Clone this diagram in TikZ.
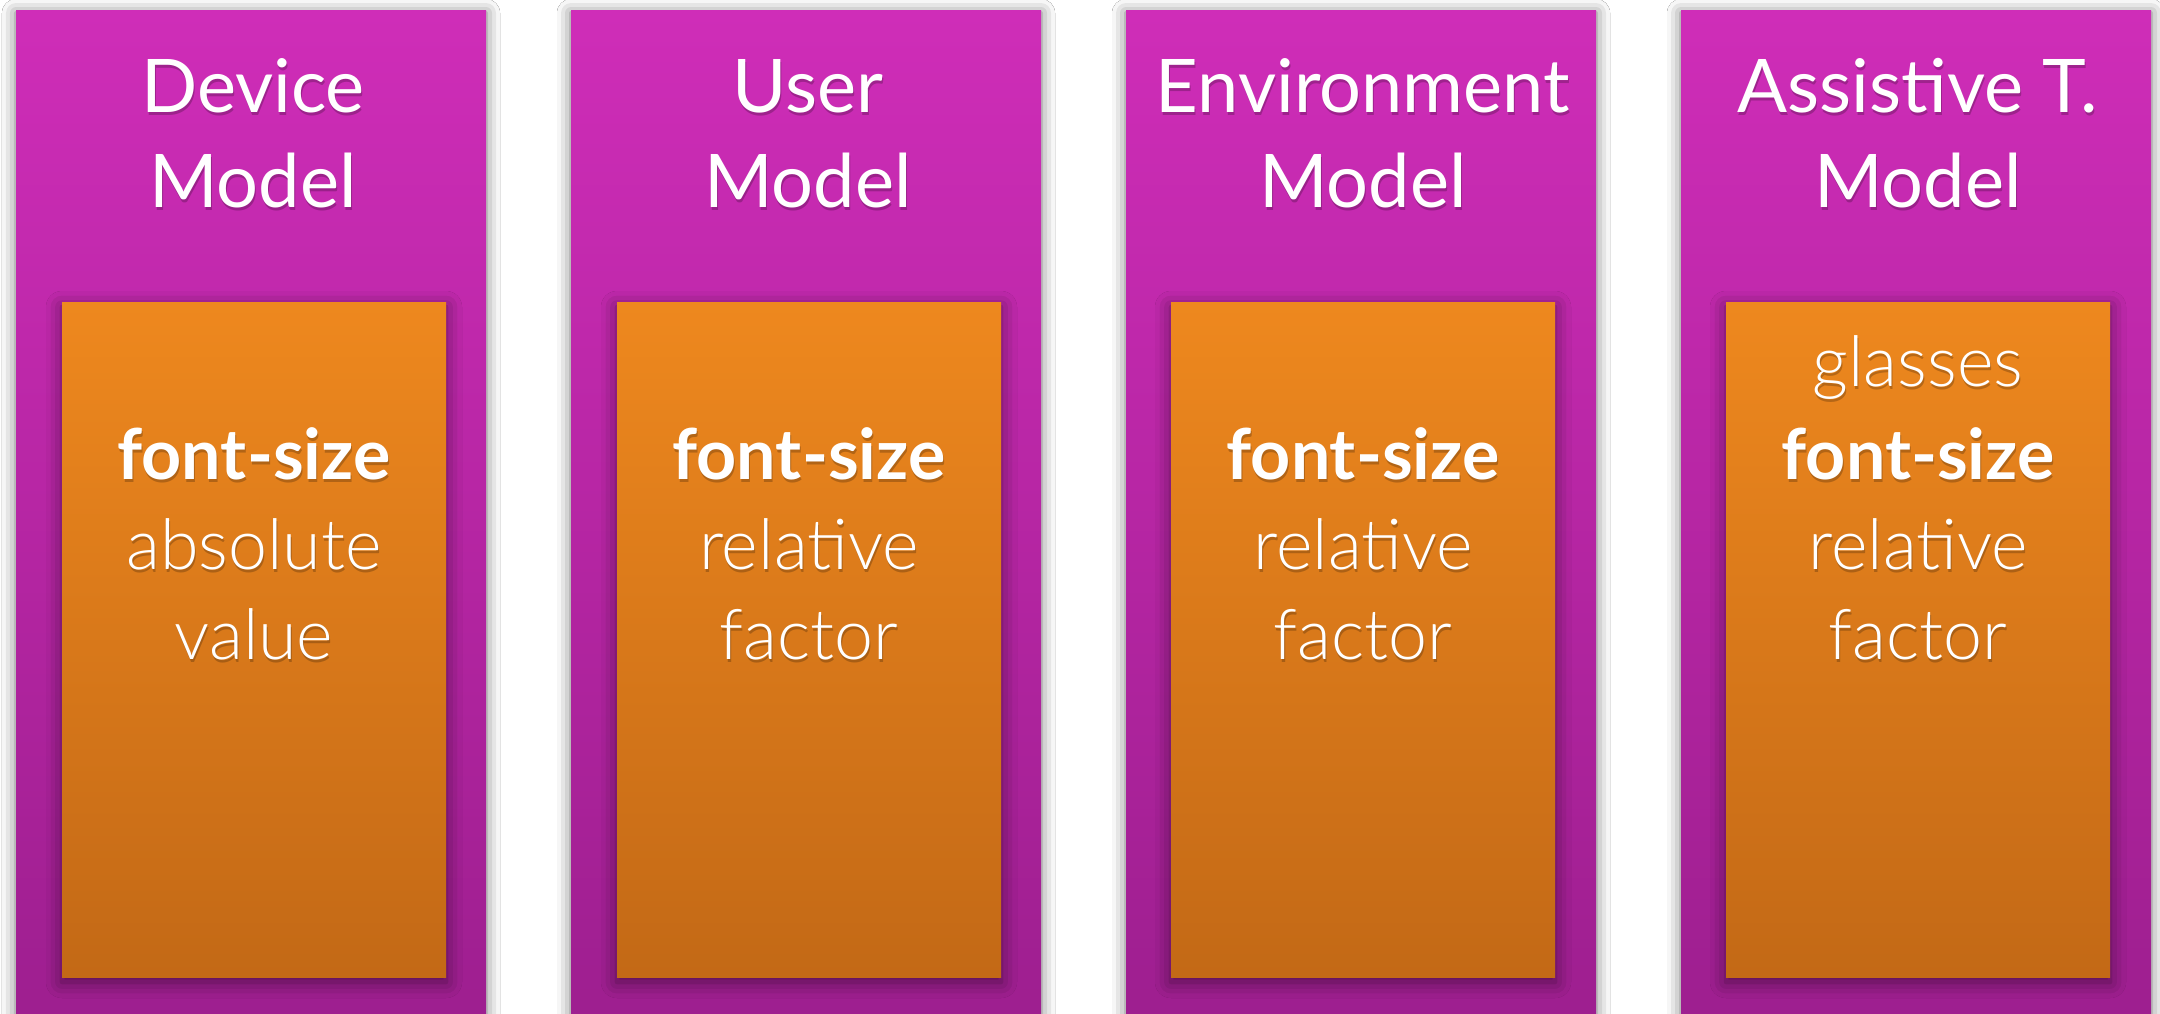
\documentclass[tikz,border=0pt]{standalone}
\usepackage{fontspec}
\setmainfont{Lato}
\newfontfamily\lightfont{Lato Light}
\usetikzlibrary{shadows.blur}
\definecolor{magtop}{RGB}{207,45,184}
\definecolor{magbot}{RGB}{156,30,142}
\definecolor{ortop}{RGB}{238,136,30}
\definecolor{orbot}{RGB}{195,105,22}
\tikzset{
  panel/.style={rectangle, minimum width=470pt, minimum height=1040pt, inner sep=0pt,
    draw=none, top color=magtop, bottom color=magbot,
    blur shadow={shadow xshift=0pt, shadow yshift=-2pt, shadow blur radius=14pt, shadow opacity=55}},
  card/.style={rectangle, minimum width=384pt, minimum height=675pt, inner sep=0pt,
    draw=none, top color=ortop, bottom color=orbot,
    blur shadow={shadow xshift=0pt, shadow yshift=-5pt, shadow blur radius=16pt, shadow opacity=50}},
  txt/.style={anchor=base, inner sep=0pt, text=white},
  txtsh/.style={anchor=base, inner sep=0pt, text=black, opacity=0.22},
  ttl/.style={font=\fontsize{74}{90}\selectfont},
  bld/.style={font=\fontsize{70}{84}\selectfont\bfseries},
  lgt/.style={font=\fontsize{70}{84}\selectfont\lightfont},
}
\newcommand\stxt[5]{%
  \node[txtsh,#4] (#1s) at (#2+1,#3+3) {#5};
  \node[txt,#4] (#1) at (#2,#3) {#5};}
\begin{document}
\begin{tikzpicture}[x=1pt,y=-1pt]
\useasboundingbox[fill=white] (0,0) rectangle (2160,1014);
% panels
\node[panel] (p1) at (251,531) {};
\node[panel] (p2) at (806,531) {};
\node[panel] (p3) at (1361,531) {};
\node[panel] (p4) at (1916,531) {};
% cards
\node[card] (c1) at (254,639.5) {};
\node[card] (c2) at (809,639.5) {};
\node[card] (c3) at (1363,639.5) {};
\node[card] (c4) at (1918,639.5) {};
% titles
\stxt{t1a}{253}{113}{ttl}{Device}
\stxt{t1b}{253}{207}{ttl}{Model}
\stxt{t2a}{808}{113}{ttl}{User}
\stxt{t2b}{808}{207}{ttl}{Model}
\stxt{t3a}{1363}{113}{ttl}{Environment}
\stxt{t3b}{1363}{207}{ttl}{Model}
\stxt{t4a}{1918}{113}{ttl}{Assistive T.}
\stxt{t4b}{1918}{207}{ttl}{Model}
% card texts
\stxt{a1}{254}{479}{bld}{font-size}
\stxt{a2}{254}{569}{lgt}{absolute}
\stxt{a3}{254}{659}{lgt}{value}
\stxt{b1}{809}{479}{bld}{font-size}
\stxt{b2}{809}{569}{lgt}{relative}
\stxt{b3}{809}{659}{lgt}{factor}
\stxt{e1}{1363}{479}{bld}{font-size}
\stxt{e2}{1363}{569}{lgt}{relative}
\stxt{e3}{1363}{659}{lgt}{factor}
\stxt{g0}{1918}{386}{lgt}{glasses}
\stxt{g1}{1918}{479}{bld}{font-size}
\stxt{g2}{1918}{569}{lgt}{relative}
\stxt{g3}{1918}{659}{lgt}{factor}
\end{tikzpicture}
\end{document}
